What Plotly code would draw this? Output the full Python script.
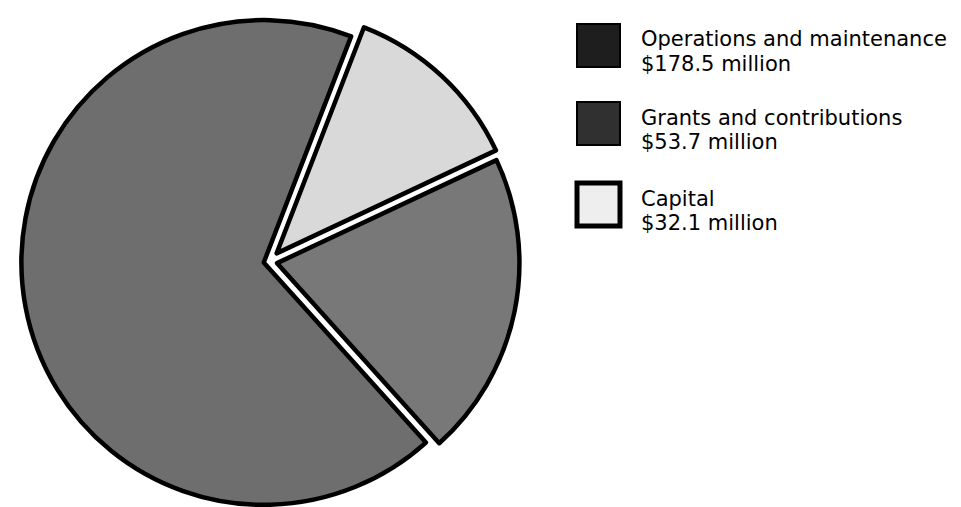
import plotly.graph_objects as go

# Data
categories = ["Operations and maintenance", "Grants and contributions", "Capital"]
values = [178.5, 53.7, 32.1]
value_labels = ["$178.5 million", "$53.7 million", "$32.1 million"]

# Styles
slice_colors = ["#6e6e6e", "#787878", "#d9d9d9"]
legend_fill = ["#1e1e1e", "#303030", "#eeeeee"]
pulls = [0.022, 0.034, 0.046]

W, H = 961, 507

fig = go.Figure()
fig.add_trace(go.Pie(
    labels=categories,
    values=values,
    sort=False,
    direction="counterclockwise",
    rotation=138,
    pull=pulls,
    textinfo="none",
    hoverinfo="label+value",
    showlegend=False,
    marker=dict(colors=slice_colors, line=dict(color="#000000", width=4.5)),
    domain=dict(x=[0, 522 / W], y=[0, 1]),
))

# Custom legend (boxes + two-line labels)
box_tops = [16, 94, 175]
box_size = 43
box_x0 = 569
text_x = 633
line_gap = 24.5
shapes = []
annotations = []
for i, (cat, val) in enumerate(zip(categories, value_labels)):
    top = box_tops[i]
    shapes.append(dict(
        type="rect", xref="paper", yref="paper",
        x0=box_x0 / W, x1=(box_x0 + box_size) / W,
        y0=1 - (top + box_size) / H, y1=1 - top / H,
        fillcolor=legend_fill[i],
        line=dict(color="#000000", width=5 if i == 2 else 2),
    ))
    base1 = top + 23
    for j, txt in enumerate([cat, val]):
        center = base1 + j * line_gap - 7.5
        annotations.append(dict(
            text=txt, xref="paper", yref="paper",
            x=text_x / W, y=1 - center / H,
            xanchor="left", yanchor="middle", showarrow=False,
            borderpad=0, borderwidth=0,
            font=dict(family="DejaVu Sans, Arial, sans-serif", size=21, color="#000000"),
        ))

fig.update_layout(
    width=W, height=H,
    margin=dict(l=0, r=0, t=0, b=0),
    paper_bgcolor="#ffffff",
    plot_bgcolor="#ffffff",
    shapes=shapes,
    annotations=annotations,
)

fig.write_html("out.html")
